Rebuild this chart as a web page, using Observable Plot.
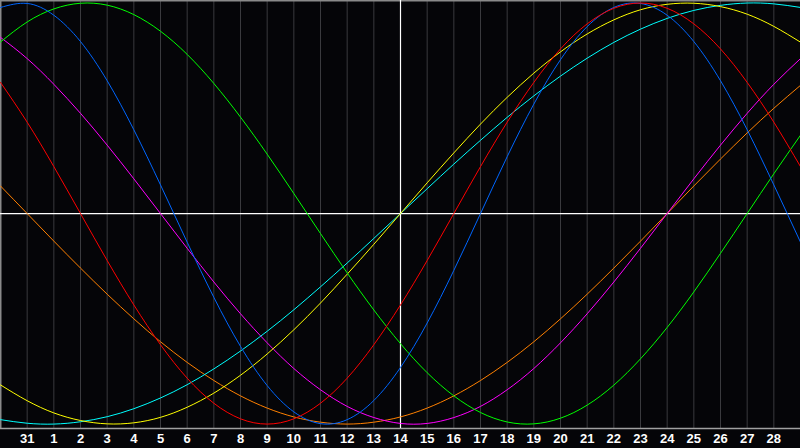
<!DOCTYPE html>
<html>
<head>
<meta charset="utf-8">
<script src="https://cdn.jsdelivr.net/npm/d3@7"></script>
<script src="https://cdn.jsdelivr.net/npm/@observablehq/plot@0.6"></script>
<style>
  html, body { margin: 0; padding: 0; background: #050508; }
  #chart svg { display: block; }
</style>
</head>
<body>
<div id="chart"></div>
<script>
// Day labels, one per sampled day (first and last fall on the plot edges, unlabeled)
const dayLabels = ["30","31","1","2","3","4","5","6","7","8","9","10","11","12","13","14","15","16","17","18","19","20","21","22","23","24","25","26","27","28","29"];
const labeledDays = ["31","1","2","3","4","5","6","7","8","9","10","11","12","13","14","15","16","17","18","19","20","21","22","23","24","25","26","27","28"];
const todayLabel = "14";

// Cycle values (percent) read at each day
const physical     = [97.9,99.8,94.2,81.7,63.1,39.8,13.6,-13.6,-39.8,-63.1,-81.7,-94.2,-99.8,-97.9,-88.8,-73.1,-52.0,-27.0,0,27.0,52.0,73.1,88.8,97.9,99.8,94.2,81.7,63.1,39.8,13.6,-13.6];
const emotional    = [62.3,43.4,22.3,0,-22.3,-43.4,-62.3,-78.2,-90.1,-97.5,-100,-97.5,-90.1,-78.2,-62.3,-43.4,-22.3,0,22.3,43.4,62.3,78.2,90.1,97.5,100,97.5,90.1,78.2,62.3,43.4,22.3];
const intellectual = [81.5,91.0,97.2,99.9,99.0,94.5,86.6,75.6,61.8,45.8,28.2,9.5,-9.5,-28.2,-45.8,-61.8,-75.6,-86.6,-94.5,-99.0,-99.9,-97.2,-91.0,-81.5,-69.0,-54.1,-37.2,-18.9,0,18.9,37.2];
const intuitive    = [83.7,73.6,61.4,47.6,32.5,16.5,0,-16.5,-32.5,-47.6,-61.4,-73.6,-83.7,-91.6,-96.9,-99.7,-99.7,-96.9,-91.6,-83.7,-73.6,-61.4,-47.6,-32.5,-16.5,0,16.5,32.5,47.6,61.4,73.6];
const aesthetic    = [-81.4,-88.9,-94.7,-98.3,-99.9,-99.4,-96.8,-92.0,-85.3,-76.8,-66.7,-55.2,-42.5,-28.8,-14.6,0,14.6,28.8,42.5,55.2,66.7,76.8,85.3,92.0,96.8,99.4,99.9,98.3,94.7,88.9,81.4];
const awareness    = [13.1,0,-13.1,-25.9,-38.3,-50,-60.9,-70.7,-79.3,-86.6,-92.4,-96.6,-99.1,-100,-99.1,-96.6,-92.4,-86.6,-79.3,-70.7,-60.9,-50,-38.3,-25.9,-13.1,0,13.1,25.9,38.3,50,60.9];
const spiritual    = [-97.9,-99.6,-100,-98.9,-96.5,-92.7,-87.6,-81.3,-73.8,-65.3,-55.9,-45.7,-34.8,-23.5,-11.8,0,11.8,23.5,34.8,45.7,55.9,65.3,73.8,81.3,87.6,92.7,96.5,98.9,100,99.6,97.9];

const seriesNames  = ["awareness","intuitive","spiritual","aesthetic","intellectual","physical","emotional"];
const seriesValues = [awareness, intuitive, spiritual, aesthetic, intellectual, physical, emotional];
const seriesColors = ["#ff8000","#ff00ff","#00ffff","#ffff00","#00ff00","#0066ff","#ff0000"];

const rows = [];
seriesNames.forEach((name, s) => {
  seriesValues[s].forEach((v, i) => rows.push({series: name, day: i, value: v}));
});
const gridDays = labeledDays.map(l => dayLabels.indexOf(l, 1));
const todayIndex = dayLabels.indexOf(todayLabel, 1);

const chart = Plot.plot({
  width: 800,
  height: 448,
  marginLeft: 0,
  marginRight: 0,
  marginTop: 0,
  marginBottom: 20,
  style: {background: "#050508", color: "#ffffff"},
  x: {domain: [0, dayLabels.length - 1], axis: null},
  y: {domain: [-102.1, 101.2], axis: null},
  color: {domain: seriesNames, range: seriesColors},
  marks: [
    Plot.ruleX(gridDays.filter(d => d !== todayIndex), {stroke: "#3a3a3e", strokeWidth: 1}),
    Plot.ruleX([0], {stroke: "#8a8a8a", strokeWidth: 2}),
    Plot.ruleY([101.2], {stroke: "#8a8a8a", strokeWidth: 2}),
    Plot.ruleY([-102.1], {stroke: "#a0a0a0", strokeWidth: 1.5}),
    Plot.ruleX([todayIndex], {stroke: "#ffffff", strokeWidth: 1.2}),
    Plot.ruleY([0], {stroke: "#ffffff", strokeWidth: 1.2}),
    Plot.line(rows, {x: "day", y: "value", z: "series", stroke: "series", curve: "natural", strokeWidth: 1}),
    Plot.axisX(gridDays, {
      tickSize: 0,
      tickPadding: 5,
      tickFormat: d => dayLabels[d],
      fill: "#ffffff",
      fontSize: 13,
      fontWeight: "bold",
      fontFamily: "Liberation Sans, Arial, sans-serif",
      label: null
    })
  ]
});
document.getElementById("chart").appendChild(chart);
</script>
</body>
</html>
